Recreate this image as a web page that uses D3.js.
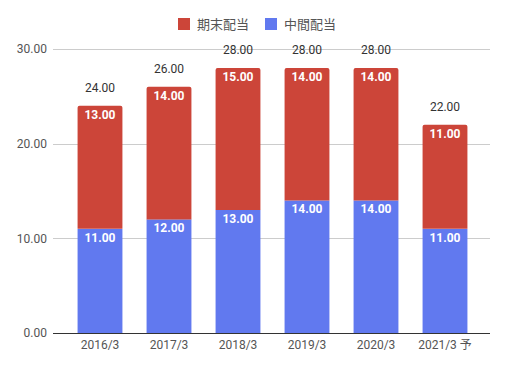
<!DOCTYPE html>
<html><head><meta charset="utf-8">
<script src="https://cdn.jsdelivr.net/npm/d3@7"></script>
<style>body{margin:0;background:#fff}svg{font-family:Roboto,"Noto Sans CJK JP",sans-serif}</style>
</head><body><svg id="c" width="508" height="370"></svg>
<script>
const categories = ["2016/3","2017/3","2018/3","2019/3","2020/3","2021/3 予"];
const interim = [11,12,13,14,14,11];
const yearEnd = [13,14,15,14,14,11];
const seriesNames = ["期末配当","中間配当"];
const yTicks = [0,10,20,30];
const colors = {yearEnd:"#cc4539", interim:"#6179ef"};

const svg = d3.select("#c");
const x = d3.scaleBand().domain(categories).range([65.5,479.5]).paddingInner(0.35).paddingOuter(0.175);
const y = d3.scaleLinear().domain([0,30]).range([333,49]);

// gridlines
svg.append("g").selectAll("line").data(yTicks.filter(d=>d>0)).join("line")
  .attr("x1",53).attr("x2",490).attr("y1",d=>Math.round(y(d))+0.5).attr("y2",d=>Math.round(y(d))+0.5)
  .attr("stroke","#cccccc");
svg.append("g").selectAll("text").data(yTicks).join("text")
  .attr("x",47).attr("y",d=>y(d)).attr("dy","0.35em").attr("text-anchor","end")
  .attr("font-size",12).attr("fill","#555").text(d=>d.toFixed(2));

function topRounded(x0,y0,w,h,r){
  return `M${x0},${y0+h}V${y0+r}Q${x0},${y0} ${x0+r},${y0}H${x0+w-r}Q${x0+w},${y0} ${x0+w},${y0+r}V${y0+h}Z`;
}
const g = svg.append("g");
categories.forEach((c,i)=>{
  const bx = x(c), bw = x.bandwidth();
  const yi = y(interim[i]), ytot = y(interim[i]+yearEnd[i]);
  g.append("rect").attr("x",bx).attr("y",yi).attr("width",bw).attr("height",y(0)-yi).attr("fill",colors.interim);
  g.append("path").attr("d",topRounded(bx,ytot,bw,yi-ytot,2)).attr("fill",colors.yearEnd);
  g.append("text").attr("x",bx+bw/2).attr("y",yi+13).attr("text-anchor","middle").attr("font-size",12).attr("font-weight","bold").attr("fill","#fff").text(interim[i].toFixed(2));
  g.append("text").attr("x",bx+bw/2).attr("y",ytot+13).attr("text-anchor","middle").attr("font-size",12).attr("font-weight","bold").attr("fill","#fff").text(yearEnd[i].toFixed(2));
  g.append("text").attr("x",bx+bw/2).attr("y",ytot-14).attr("text-anchor","middle").attr("font-size",12).attr("fill","#333").text((interim[i]+yearEnd[i]).toFixed(2));
});

// baseline
svg.append("line").attr("x1",53).attr("x2",490).attr("y1",333.5).attr("y2",333.5).attr("stroke","#333");
// x axis labels
svg.append("g").selectAll("text").data(categories).join("text")
  .attr("x",d=>x(d)+x.bandwidth()/2).attr("y",349).attr("text-anchor","middle")
  .attr("font-size",12).attr("fill","#555").text(d=>d);

// legend
const leg = [{n:seriesNames[0],c:colors.yearEnd,x:178},{n:seriesNames[1],c:colors.interim,x:265}];
leg.forEach(l=>{
  svg.append("rect").attr("x",l.x).attr("y",18).attr("width",12).attr("height",12).attr("fill",l.c);
  svg.append("text").attr("x",l.x+19).attr("y",24).attr("dy","0.35em").attr("font-size",13).attr("fill","#555").text(l.n);
});
</script></body></html>
